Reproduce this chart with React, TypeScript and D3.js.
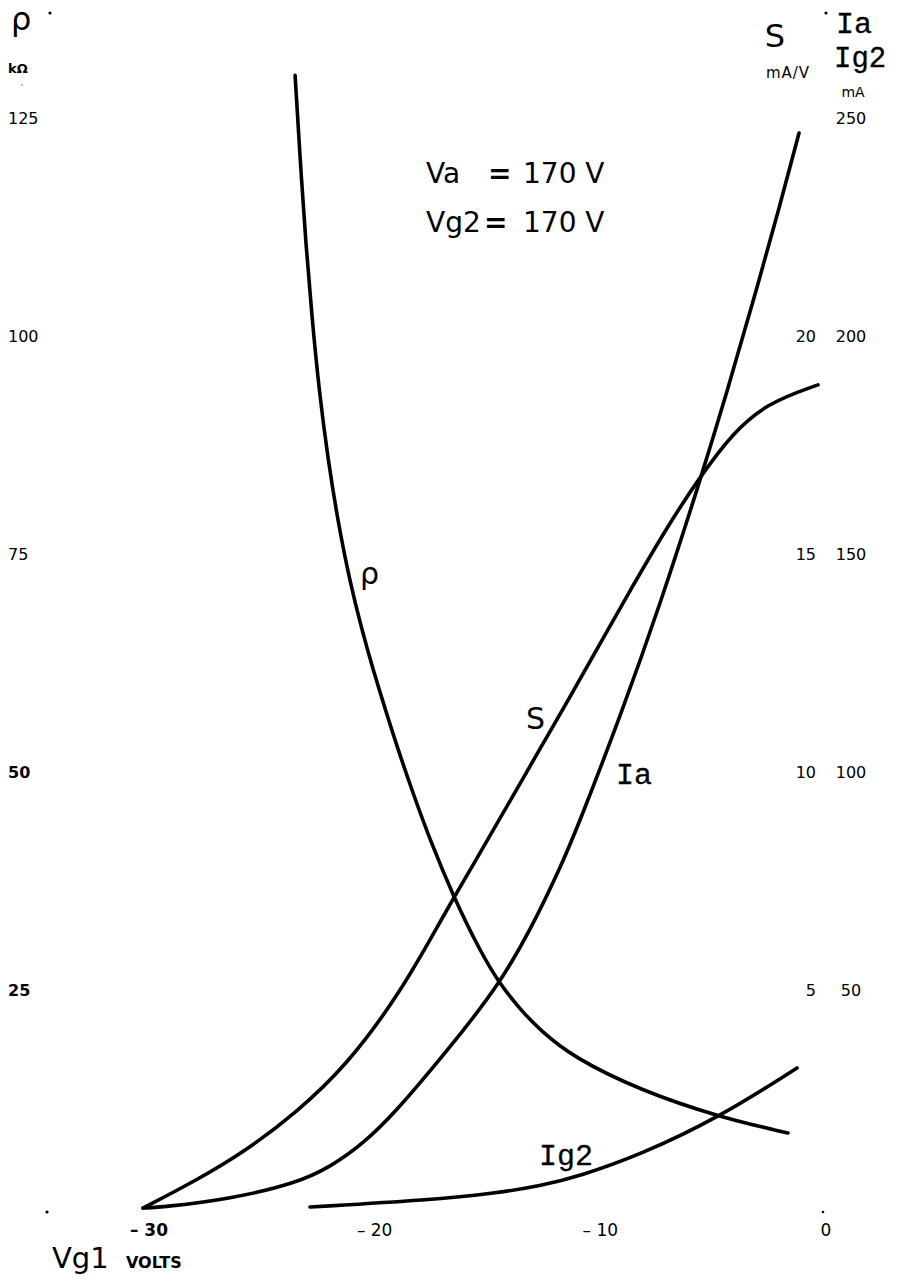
import React from "react";
import * as d3 from "d3";

// Grid voltage Vg1 (V) and curve values
const rhoVg = [-23.26, -23.04, -22.78, -22.51, -22.2, -21.8, -21.36, -20.83, -20.3, -19.81, -19.23, -18.7, -18.04, -17.28, -16.26, -15.07, -14.22, -13.29, -12.41, -10.95, -7.98, -4.43, -1.42];
const rhoK = [129.9, 120.4, 110.4, 102.1, 93.8, 85.8, 78.7, 71.8, 66.3, 61.8, 56.9, 52.6, 47.6, 42.2, 35.8, 29.5, 25.8, 22.8, 20.4, 17.3, 13.5, 10.4, 8.6];

const sVg = [-30, -27.61, -25.39, -23.18, -20.96, -18.74, -17.28, -16.26, -15.07, -13.74, -12.41, -11.08, -9.75, -8.73, -6.78, -5.32, -3.86, -2.35, -0.09];
const sMaV = [0, 0.64, 1.33, 2.2, 3.28, 4.84, 6.15, 7.09, 8.14, 9.33, 10.53, 11.72, 12.94, 13.88, 15.62, 16.77, 17.78, 18.46, 18.88];

const iaVg = [-30, -29.11, -26.14, -23.18, -21.71, -20.25, -18.74, -17.28, -15.82, -14.22, -12.85, -11.39, -10.64, -8.86, -7.09, -5.32, -4.12, -2.97, -1.77, -0.93];
const iaMa = [0, 0.23, 2.06, 5.73, 9.4, 14.68, 22.48, 31.42, 40.6, 51.38, 63.53, 79.36, 88.76, 112.61, 138.3, 166.74, 187.16, 207.8, 230.05, 246.56];

const ig2Vg = [-22.6, -17.28, -14.31, -12.41, -10.64, -7.98, -4.43, -1.02];
const ig2Ma = [0.23, 1.83, 3.44, 5.05, 7.34, 12.16, 20.87, 32.11];

const xTicks = [-30, -20, -10, 0];
const xTickLabels = ["– 30", "– 20", "– 10", "0"];
const rhoTicks = [25, 50, 75, 100, 125];
const sTicks = [5, 10, 15, 20];
const iaTicks = [50, 100, 150, 200, 250];

export default function App() {
  const W = 900;
  const H = 1281;
  const x = d3.scaleLinear().domain([-30, 0]).range([143, 820]);
  const yRho = d3.scaleLinear().domain([0, 125]).range([1208, 118]);
  const yS = d3.scaleLinear().domain([0, 25]).range([1208, 118]);
  const yIa = d3.scaleLinear().domain([0, 250]).range([1208, 118]);

  const mk = (xs: number[], ys: number[], ys2: (v: number) => number) => {
    const pts = xs.map((v, i) => [v, ys[i]] as [number, number]);
    return d3
      .line<[number, number]>()
      .x((d) => x(d[0]))
      .y((d) => ys2(d[1]))
      .curve(d3.curveBasis)(pts) as string;
  };

  const curves = [
    mk(rhoVg, rhoK, yRho),
    mk(sVg, sMaV, yS),
    mk(iaVg, iaMa, yIa),
    mk(ig2Vg, ig2Ma, yIa),
  ];

  const sans = "'DejaVu Sans', sans-serif";
  const mono = "'Liberation Mono', 'DejaVu Sans Mono', monospace";

  return (
    <svg
      width={W}
      height={H}
      viewBox={`0 0 ${W} ${H}`}
      style={{ position: "absolute", left: 0, top: 0, background: "#fff" }}
    >
      <rect x={0} y={0} width={W} height={H} fill="#fff" />
      {curves.map((d, i) => (
        <path key={i} d={d} fill="none" stroke="#000" strokeWidth={3.6} strokeLinecap="round" />
      ))}

      {/* left axis header */}
      <text x={11} y={30} fontFamily={sans} fontSize={32} fill="#000">ρ</text>
      <text x={8} y={73} fontFamily={sans} fontSize={13} fontWeight="bold" fill="#000">kΩ</text>
      <circle cx={50} cy={13} r={1.6} fill="#000" />
      <circle cx={22} cy={85} r={0.7} fill="#555" />

      {rhoTicks.map((t) => (
        <text
          key={t}
          x={8}
          y={yRho(t)}
          dy="0.36em"
          fontFamily={sans}
          fontSize={16}
          fontWeight={t === 25 || t === 50 ? "bold" : "normal"}
          fill="#000"
        >
          {t}
        </text>
      ))}

      {/* right axis headers */}
      <text x={775} y={47} textAnchor="middle" fontFamily={sans} fontSize={32} fill="#000">S</text>
      <text x={788} y={78} textAnchor="middle" fontFamily={sans} fontSize={15} letterSpacing={1} fill="#000">mA/V</text>
      <circle cx={826} cy={13} r={1.6} fill="#000" />
      <text x={836} y={33} fontFamily={mono} fontSize={30} stroke="#000" strokeWidth={0.3} fill="#000">Ia</text>
      <text x={834} y={67} fontFamily={mono} fontSize={29} stroke="#000" strokeWidth={0.3} fill="#000">Ig2</text>
      <text x={853} y={97} textAnchor="middle" fontFamily={sans} fontSize={14} fill="#000">mA</text>

      {sTicks.map((t) => (
        <text key={t} x={816} y={yS(t)} dy="0.36em" textAnchor="end" fontFamily={sans} fontSize={16} fill="#000">
          {t}
        </text>
      ))}
      {iaTicks.map((t) => (
        <text key={t} x={851} y={yIa(t)} dy="0.36em" textAnchor="middle" fontFamily={sans} fontSize={16} fill="#000">
          {t}
        </text>
      ))}

      {/* conditions */}
      <text x={426} y={183} fontFamily={sans} fontSize={28} fill="#000">Va</text>
      <text x={488} y={183} fontFamily={sans} fontSize={28} fontWeight="bold" fill="#000">=</text>
      <text x={523} y={183} fontFamily={sans} fontSize={28} fill="#000">170 V</text>
      <text x={426} y={232} fontFamily={sans} fontSize={28} fill="#000">Vg2</text>
      <text x={484} y={232} fontFamily={sans} fontSize={28} fontWeight="bold" fill="#000">=</text>
      <text x={523} y={232} fontFamily={sans} fontSize={28} fill="#000">170 V</text>

      {/* curve labels */}
      <text x={360} y={584} fontFamily={sans} fontSize={30} fill="#000">ρ</text>
      <text x={526} y={729} fontFamily={sans} fontSize={30} fill="#000">S</text>
      <text x={616} y={784} fontFamily={mono} fontSize={30} stroke="#000" strokeWidth={0.3} fill="#000">Ia</text>
      <text x={539} y={1165} fontFamily={mono} fontSize={30} stroke="#000" strokeWidth={0.3} fill="#000">Ig2</text>

      {/* x axis */}
      {xTicks.map((t, i) => (
        <text
          key={t}
          x={x(t) + 6}
          y={1230}
          dy="0.36em"
          textAnchor="middle"
          fontFamily={sans}
          fontSize={17}
          fontWeight={t === -30 ? "bold" : "normal"}
          fill="#000"
        >
          {xTickLabels[i]}
        </text>
      ))}
      <circle cx={47} cy={1212} r={1.6} fill="#000" />
      <circle cx={823} cy={1212} r={1.3} fill="#000" />
      <text x={52} y={1268} fontFamily={sans} fontSize={29} fill="#000">Vg1</text>
      <text x={126} y={1268} fontFamily={sans} fontSize={16} fontWeight="bold" fill="#000">VOLTS</text>
    </svg>
  );
}
